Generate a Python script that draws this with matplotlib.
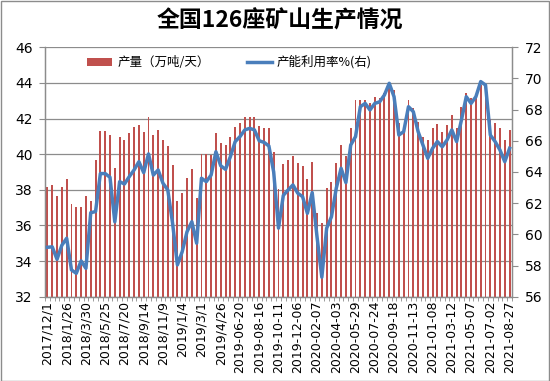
import matplotlib
matplotlib.use("Agg")
import matplotlib.pyplot as plt
from matplotlib.lines import Line2D
from matplotlib.patches import Patch, Rectangle
import numpy as np

plt.rcParams["font.family"] = ["Noto Sans CJK SC", "DejaVu Sans"]

TITLE = "全国126座矿山生产情况"
BAR_LABEL = "产量（万吨/天）"
LINE_LABEL = "产能利用率%(右)"

# one label every 4 data points (97 points, roughly biweekly)
tick_labels = [
    "2017/12/1", "2018/1/26", "2018/3/30", "2018/5/25", "2018/7/20",
    "2018/9/14", "2018/11/9", "2019/1/4", "2019/3/1", "2019/4/26",
    "2019-06-20", "2019-08-16", "2019-10-11", "2019-12-06", "2020-02-07",
    "2020-04-03", "2020-05-29", "2020-07-24", "2020-09-18", "2020-11-13",
    "2021-01-08", "2021-03-12", "2021-05-07", "2021-07-02", "2021-08-27",
]

# output, 10k t/day (left axis)
output = [
    38.17, 38.27, 37.65, 38.17, 38.59, 37.18, 37.05, 37.05, 37.65, 37.37,
    39.67, 41.32, 41.32, 41.06, 39.20, 40.98, 40.80, 41.17, 41.50, 41.64,
    41.26, 42.10, 41.08, 41.36, 40.80, 40.46, 39.40, 37.39, 37.80, 38.64,
    39.17, 37.56, 40.00, 40.00, 39.95, 41.20, 40.60, 40.50, 40.98, 41.50,
    41.77, 42.07, 42.07, 42.07, 41.58, 41.49, 41.45, 40.12, 38.03, 39.43,
    39.67, 39.90, 39.52, 39.33, 38.59, 39.56, 36.68, 36.12, 38.12, 38.42,
    39.52, 40.51, 39.90, 41.49, 43.04, 43.04, 43.04, 42.86, 43.23, 43.14,
    43.42, 43.98, 43.60, 41.73, 41.36, 43.04, 42.57, 41.82, 40.98, 40.80,
    41.45, 41.68, 41.26, 41.64, 42.20, 41.45, 42.67, 43.42, 43.14, 43.23,
    43.88, 43.98, 42.00, 41.73, 41.45, 40.80, 41.36,
]

# capacity utilisation, % (right axis)
utilisation = [
    59.17, 59.20, 58.40, 59.30, 59.75, 57.72, 57.50, 58.30, 57.82, 61.39,
    61.46, 63.90, 63.90, 63.66, 60.80, 63.38, 63.23, 63.70, 64.13, 64.66,
    63.96, 65.16, 63.80, 64.13, 63.28, 62.85, 60.71, 58.04, 58.89, 60.17,
    60.81, 59.43, 63.60, 63.38, 63.80, 65.30, 64.40, 64.17, 64.98, 65.95,
    66.27, 66.70, 66.80, 66.70, 66.00, 65.90, 65.67, 64.00, 60.40, 62.50,
    62.85, 63.17, 62.64, 62.42, 61.35, 62.68, 59.85, 57.25, 60.39, 61.13,
    62.96, 64.24, 63.32, 65.73, 66.27, 68.19, 68.40, 67.98, 68.40, 68.50,
    68.94, 69.69, 68.83, 66.37, 66.59, 68.19, 67.87, 66.59, 65.73, 64.88,
    65.52, 65.95, 65.62, 66.05, 66.70, 65.95, 67.34, 68.83, 68.40, 68.83,
    69.80, 69.58, 66.37, 65.95, 65.41, 64.66, 65.52,
]

BAR_COLOR = "#C0504D"
LINE_COLOR = "#4A7EBB"
GRID_COLOR = "#8C8C8C"

fig = plt.figure(figsize=(5.5, 3.81), dpi=100)
fig.subplots_adjust(left=45 / 550, right=512 / 550, top=1 - 47.3 / 381, bottom=1 - 296.7 / 381)
ax = fig.add_subplot(111)
ax2 = ax.twinx()

x = np.arange(len(output))
ax.bar(x, output, width=0.4, color=BAR_COLOR, zorder=2)
ax2.plot(x, utilisation, color=LINE_COLOR, linewidth=2.5, solid_joinstyle="round", zorder=3)

ax.set_xlim(-0.5, len(output) - 0.5)
ax.set_ylim(32, 46)
ax.set_yticks(np.arange(32, 47, 2))
ax2.set_ylim(56, 72)
ax2.set_yticks(np.arange(56, 73, 2))

ax.set_xticks(x[::4])
ax.set_xticklabels(tick_labels, rotation=90, fontsize=9, family="DejaVu Sans")
ax.set_xticks(np.arange(-0.5, len(output), 1), minor=True)
ax.tick_params(axis="x", which="major", length=0, pad=3)
ax.tick_params(axis="x", which="minor", length=3, color=GRID_COLOR)

ax.set_axisbelow(True)
ax.yaxis.grid(True, color=GRID_COLOR, linewidth=0.9)
for a in (ax, ax2):
    a.tick_params(axis="y", length=4, color=GRID_COLOR, labelsize=10, pad=5)
    for lab in a.get_yticklabels():
        lab.set_family("DejaVu Sans")
    a.spines["top"].set_visible(False)
    for side in ("left", "right", "bottom"):
        a.spines[side].set_color(GRID_COLOR)
        a.spines[side].set_linewidth(0.9)

handles = [Patch(facecolor=BAR_COLOR, edgecolor="none"),
           Line2D([0], [0], color=LINE_COLOR, linewidth=2.5)]
leg = ax2.legend(handles, [BAR_LABEL, LINE_LABEL], loc="center left",
                 bbox_to_anchor=(0.066, 0.94), ncol=2, frameon=False, fontsize=9,
                 handlelength=2.0, handleheight=0.6, handletextpad=0.4, columnspacing=3.0)

fig.text(0.508, 1 - 21 / 381, TITLE, ha="center", va="center", fontsize=16.5, fontweight="bold")

fig.patches.append(Rectangle((0.001, 0.001), 0.997, 0.997, transform=fig.transFigure,
                             fill=False, edgecolor=GRID_COLOR, linewidth=1.0))

fig.savefig("out.png", dpi=100)
